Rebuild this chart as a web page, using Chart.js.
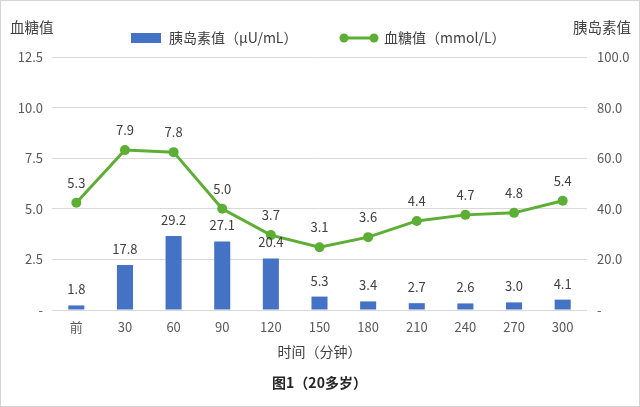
<!DOCTYPE html>
<html>
<head>
<meta charset="utf-8">
<script src="https://cdn.jsdelivr.net/npm/chart.js@4/dist/chart.umd.min.js"></script>
<style>
html,body{margin:0;padding:0;background:#fff;}
canvas{display:block;}
</style>
</head>
<body>
<canvas id="c" width="640" height="407"></canvas>
<script>
const categories = ['前','30','60','90','120','150','180','210','240','270','300'];
const insulin = [1.8,17.8,29.2,27.1,20.4,5.3,3.4,2.7,2.6,3.0,4.1];
const glucose = [5.3,7.9,7.8,5.0,3.7,3.1,3.6,4.4,4.7,4.8,5.4];
const insulinLabel = '胰岛素值（µU/mL）';
const glucoseLabel = '血糖值（mmol/L）';
const leftTitle = '血糖值';
const rightTitle = '胰岛素值';
const xTitle = '时间（分钟）';
const caption = '图1（20多岁）';

const FONT = '"Noto Sans CJK SC","Noto Sans",sans-serif';
const BLUE = '#4472c4';
const GREEN = '#5cae34';

const fmt = v => v === 0 ? '-' : v.toFixed(1);

const decor = {
  id: 'decor',
  afterDatasetsDraw(chart) {
    const ctx = chart.ctx;
    ctx.save();
    ctx.textAlign = 'center';
    ctx.textBaseline = 'middle';
    ctx.font = '13px ' + FONT;
    ctx.fillStyle = '#404040';
    const barMeta = chart.getDatasetMeta(0);
    barMeta.data.forEach((el, i) => {
      ctx.fillText(insulin[i].toFixed(1), el.x, el.y - 16);
    });
    const lineMeta = chart.getDatasetMeta(1);
    lineMeta.data.forEach((el, i) => {
      ctx.fillText(glucose[i].toFixed(1), el.x, el.y - 20);
    });
    ctx.restore();
  },
  afterDraw(chart) {
    const ctx = chart.ctx;
    const ca = chart.chartArea;
    const cx = (ca.left + ca.right) / 2;
    ctx.save();
    ctx.strokeStyle = '#d4d4d4';
    ctx.lineWidth = 1;
    ctx.strokeRect(0.5, 0.5, chart.width - 1, chart.height - 1);
    ctx.fillStyle = '#404040';
    ctx.font = '14.5px ' + FONT;
    ctx.textBaseline = 'middle';
    ctx.textAlign = 'left';
    ctx.fillText(leftTitle, 10, 27);
    ctx.textAlign = 'right';
    ctx.fillText(rightTitle, 631, 27);
    ctx.font = '14px ' + FONT;
    ctx.textAlign = 'left';
    ctx.fillStyle = BLUE;
    ctx.fillRect(131, 33, 30, 10);
    ctx.fillStyle = '#404040';
    ctx.fillText(insulinLabel, 169, 38);
    ctx.strokeStyle = GREEN;
    ctx.lineWidth = 3;
    ctx.beginPath();
    ctx.moveTo(344, 38); ctx.lineTo(374, 38); ctx.stroke();
    ctx.fillStyle = GREEN;
    [344, 374].forEach(x => { ctx.beginPath(); ctx.arc(x, 38, 4.5, 0, Math.PI * 2); ctx.fill(); });
    ctx.fillStyle = '#404040';
    ctx.fillText(glucoseLabel, 384, 38);
    ctx.textAlign = 'center';
    ctx.font = '14px ' + FONT;
    ctx.fillText(xTitle, cx, 352);
    ctx.font = 'bold 14px ' + FONT;
    ctx.fillStyle = '#262626';
    ctx.fillText(caption, cx, 383);
    ctx.restore();
  }
};

new Chart(document.getElementById('c'), {
  data: {
    labels: categories,
    datasets: [
      {
        type: 'bar',
        label: insulinLabel,
        data: insulin,
        yAxisID: 'yR',
        backgroundColor: BLUE,
        categoryPercentage: 1,
        barPercentage: 0.33,
        order: 1
      },
      {
        type: 'line',
        label: glucoseLabel,
        data: glucose,
        yAxisID: 'yL',
        borderColor: GREEN,
        backgroundColor: GREEN,
        borderWidth: 3,
        pointRadius: 5,
        pointBackgroundColor: GREEN,
        pointBorderWidth: 0,
        tension: 0,
        order: 0
      }
    ]
  },
  options: {
    responsive: false,
    animation: false,
    layout: { padding: { top: 57, left: 0, right: 0, bottom: 0 } },
    plugins: { legend: { display: false }, tooltip: { enabled: false }, title: { display: false } },
    scales: {
      x: {
        grid: { display: false, drawTicks: false },
        border: { display: false },
        ticks: { color: '#595959', font: { size: 13, family: FONT }, padding: 9, maxRotation: 0 },
        afterFit(s) { s.height = 407 - 310; }
      },
      yL: {
        position: 'left',
        min: 0, max: 12.5,
        grid: { color: '#d9d9d9', drawTicks: false, lineWidth: 1 },
        border: { display: false },
        ticks: { stepSize: 2.5, color: '#595959', font: { size: 13, family: FONT }, padding: 9, callback: v => fmt(v) },
        afterFit(s) { s.width = 52; }
      },
      yR: {
        position: 'right',
        min: 0, max: 100,
        grid: { drawOnChartArea: false, drawTicks: false },
        border: { display: false },
        ticks: { stepSize: 20, color: '#595959', font: { size: 13, family: FONT }, padding: 10, callback: v => fmt(v) },
        afterFit(s) { s.width = 640 - 587; }
      }
    }
  },
  plugins: [decor]
});
</script>
</body>
</html>
